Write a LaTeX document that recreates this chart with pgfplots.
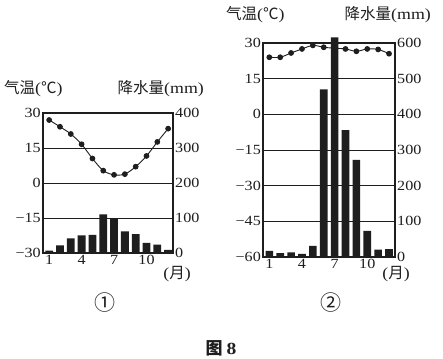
\documentclass[border=0pt]{standalone}
\usepackage{fontspec}
\setmainfont{Liberation Serif}[FakeStretch=1.15]
\newfontfamily\cjk{Noto Sans CJK SC}
\usepackage{pgfplots}
\pgfplotsset{compat=1.18}
\definecolor{ink}{HTML}{1E1E1E}
\pgfplotsset{
  base/.style={scale only axis, clip=false,
    axis line style={line width=1.1pt, draw=ink},
    tick style={draw=none},
    /pgf/number format/assume math mode=true,
    ticklabel style={font=\fontsize{14}{14}\selectfont, text=ink},
    yticklabel style={inner sep=2pt},
    xticklabel style={yshift=1pt},
  },
}
\newcommand{\hd}{\fontsize{15.5}{15.5}\selectfont}
\begin{document}
\begin{tikzpicture}
\path[use as bounding box, fill=white] (0pt,0pt) rectangle (443pt,358pt);
% ---------------- Chart 1 ----------------
\begin{axis}[base, at={(43pt,105pt)}, anchor=south west, width=130pt, height=140pt,
  xmin=0.43, xmax=12.45, ymin=-30, ymax=30,
  xtick={1,4,7,10}, xticklabels={1,4,7,10}, ytick={-30,-15,0,15,30},
  yticklabels={−30,−15,0,15,30},
  ymajorgrids, grid style={line width=0.9pt, draw=ink}]
\addplot[ink, line width=0.9pt, smooth, mark=*, mark size=2.4pt, mark options={fill=ink}]
coordinates {(1,27)(2,24.1)(3,21)(4,16.6)(5,10.5)(6,5.3)(7,3.5)(8,3.8)(9,7)(10,11.6)(11,17.6)(12,23.3)};
\end{axis}
\begin{axis}[base, at={(43pt,105pt)}, anchor=south west, width=130pt, height=140pt,
  xmin=0.43, xmax=12.45, ymin=0, ymax=400,
  axis y line*=right, axis x line=none, ytick={0,100,200,300,400}, yticklabels={0,100,200,300,400}]
\addplot[ybar, bar width=7.8pt, fill=ink, draw=none]
coordinates {(1,7)(2,22)(3,42)(4,50)(5,52)(6,110)(7,97)(8,62)(9,54)(10,29)(11,24)(12,9)};
\end{axis}
% ---------------- Chart 2 ----------------
\begin{axis}[base, at={(263pt,101pt)}, anchor=south west, width=132pt, height=214pt,
  xmin=0.42, xmax=12.55, ymin=-60, ymax=30,
  xtick={1,4,7,10}, xticklabels={1,4,7,10}, ytick={-60,-45,-30,-15,0,15,30},
  yticklabels={−60,−45,−30,−15,0,15,30},
  ymajorgrids, grid style={line width=0.9pt, draw=ink}]
\addplot[ink, line width=0.9pt, smooth, mark=*, mark size=2.4pt, mark options={fill=ink}]
coordinates {(1,24)(2,24)(3,25.8)(4,27.5)(5,29)(6,28.2)(7,27.8)(8,27.5)(9,26.5)(10,27.5)(11,27.3)(12,25.5)};
\end{axis}
\begin{axis}[base, at={(263pt,101pt)}, anchor=south west, width=132pt, height=214pt,
  xmin=0.42, xmax=12.55, ymin=0, ymax=600,
  axis y line*=right, axis x line=none, ytick={0,100,200,300,400,500,600}, yticklabels={0,100,200,300,400,500,600}]
\addplot[ybar, bar width=7.6pt, fill=ink, draw=none]
coordinates {(1,17)(2,11)(3,13)(4,9)(5,31)(6,470)(7,616)(8,356)(9,272)(10,73)(11,21)(12,22)};
\end{axis}
% ---------------- texts ----------------
\begin{scope}[every node/.style={text=ink, inner sep=0pt}]
\node[anchor=west] at (4pt,269pt) {\hd\cjk 气温\rmfamily(\cjk ℃\rmfamily)};
\node[anchor=east] at (204pt,269pt) {\hd\cjk 降水量\rmfamily(mm)};
\node[anchor=west] at (226pt,343pt) {\hd\cjk 气温\rmfamily(\cjk ℃\rmfamily)};
\node[anchor=east] at (431pt,343pt) {\hd\cjk 降水量\rmfamily(mm)};
\node at (177pt,84pt) {\hd\rmfamily(\cjk 月\rmfamily)};
\node at (396pt,84pt) {\hd\rmfamily(\cjk 月\rmfamily)};
\node at (105pt,55pt) {\cjk\fontsize{21}{21}\selectfont ①};
\node at (331pt,55pt) {\cjk\fontsize{21}{21}\selectfont ②};
\node at (221pt,10pt) {\cjk\bfseries\fontsize{17}{17}\selectfont 图 \rmfamily\bfseries 8};
\end{scope}
\end{tikzpicture}
\end{document}
